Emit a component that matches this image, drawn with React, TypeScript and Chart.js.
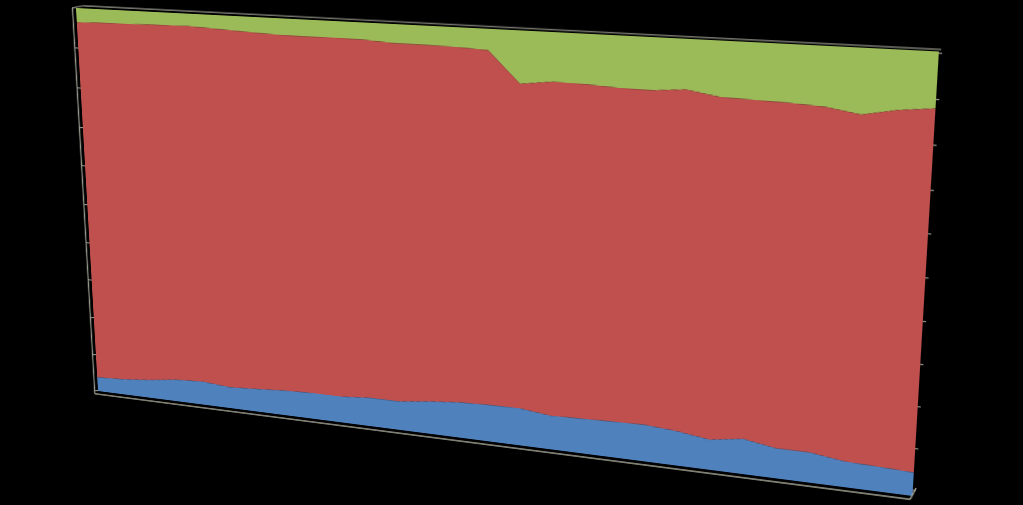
import React, { useEffect, useRef } from "react";
import { Chart, registerables } from "chart.js";

Chart.register(...registerables);

const categories = ["1","2","3","4","5","6","7","8","9","10","11","12","13","14","15","16","17","18","19","20","21","22","23","24","25","26","27","28"];
const blueValues = [3.8,4.1,4.8,5.8,6.2,5.6,6.0,6.5,6.8,6.8,7.4,7.4,8.3,9.0,9.3,9.4,8.5,8.7,8.9,9.1,8.5,7.4,8.6,7.3,7.3,6.2,5.9,5.6];
const redValues = [92.62,92.55,91.92,91.09,90.81,91.04,90.33,89.55,89.14,89.24,88.57,88.1,87.22,86.4,85.79,78.36,80.2,79.85,79.3,78.98,80.22,80.15,78.73,79.83,79.45,79.37,81.16,82.28];
const greenValues = [3.58,3.35,3.28,3.11,2.99,3.36,3.67,3.95,4.06,3.96,4.03,4.5,4.48,4.6,4.91,12.24,11.3,11.45,11.8,11.92,11.28,12.45,12.67,12.87,13.25,14.43,12.94,12.12];
const yTicks = [0, 10, 20, 30, 40, 50, 60, 70, 80, 90, 100];

const BLUE = "#4f81bd";
const RED = "#c0504d";
const GREEN = "#9bbb59";
const AXIS = "#9a9a90";

type Pt = [number, number];
const DST: Pt[] = [[76, 8], [939, 51.5], [912.5, 496], [98, 391]];

function rectToQuad(L: number, T: number, W: number, H: number, q: Pt[]): string {
  const [[x0, y0], [x1, y1], [x2, y2], [x3, y3]] = q;
  const dx1 = x1 - x2, dx2 = x3 - x2, sx = x0 - x1 + x2 - x3;
  const dy1 = y1 - y2, dy2 = y3 - y2, sy = y0 - y1 + y2 - y3;
  const den = dx1 * dy2 - dx2 * dy1;
  const g = (sx * dy2 - dx2 * sy) / den;
  const h = (dx1 * sy - sx * dy1) / den;
  const a = x1 - x0 + g * x1, b = x3 - x0 + h * x3, c = x0;
  const d = y1 - y0 + g * y1, e = y3 - y0 + h * y3, f = y0;
  const m = [
    a / W, d / W, 0, g / W,
    b / H, e / H, 0, h / H,
    0, 0, 1, 0,
    c - (a * L) / W - (b * T) / H, f - (d * L) / W - (e * T) / H, 0, 1 - (g * L) / W - (h * T) / H,
  ];
  return `matrix3d(${m.join(",")})`;
}

const framePlugin = {
  id: "frame",
  afterDraw(chart: any) {
    const { ctx, chartArea: { left: L, right: R, top: T, bottom: B } } = chart;
    const line = (pts: Pt[], color: string, w: number) => {
      ctx.save();
      ctx.strokeStyle = color;
      ctx.lineWidth = w;
      ctx.beginPath();
      pts.forEach(([x, y], i) => (i ? ctx.lineTo(x, y) : ctx.moveTo(x, y)));
      ctx.stroke();
      ctx.restore();
    };
    line([[L - 4.5, T], [L - 4.5, B + 4]], AXIS, 1.6);
    line([[L - 4.5, B + 4], [R - 2, B + 4]], "#a8a89a", 1.6);
    line([[R - 2, B + 4], [R + 3, B - 9]], "#a8a89a", 1.4);
    line([[L - 4.5, T], [L + 10, T - 3], [R + 2, T - 2]], "#77776f", 1.6);
  },
};

export default function App() {
  const ref = useRef<HTMLCanvasElement>(null);
  useEffect(() => {
    document.documentElement.style.overflow = "hidden";
    document.body.style.margin = "0";
    document.body.style.background = "#000";
    const canvas = ref.current!;
    const chart = new Chart(canvas, {
      type: "line",
      data: {
        labels: categories,
        datasets: [
          { label: "Series 1", data: blueValues, backgroundColor: BLUE, borderColor: BLUE, borderWidth: 0, pointRadius: 0, fill: "origin", tension: 0 },
          { label: "Series 2", data: redValues, backgroundColor: RED, borderColor: RED, borderWidth: 0, pointRadius: 0, fill: "-1", tension: 0 },
          { label: "Series 3", data: greenValues, backgroundColor: GREEN, borderColor: GREEN, borderWidth: 0, pointRadius: 0, fill: "-1", tension: 0 },
        ],
      },
      options: {
        responsive: false,
        animation: false,
        layout: { padding: { left: 30, right: 30, top: 15, bottom: 20 } },
        plugins: { legend: { display: false }, tooltip: { enabled: false }, title: { display: false } },
        scales: {
          x: { offset: false, grid: { display: false }, border: { display: false }, ticks: { display: false } },
          y: {
            stacked: true, min: 0, max: 100,
            afterBuildTicks: (s: any) => { s.ticks = yTicks.map((value) => ({ value })); },
            grid: { drawOnChartArea: false, color: AXIS, tickLength: 5, lineWidth: 1.2 },
            border: { display: false },
            ticks: { display: false },
          },
          y2: {
            position: "right", min: -1.4, max: 100.3,
            afterBuildTicks: (s: any) => { s.ticks = yTicks.map((value) => ({ value })); },
            grid: { drawOnChartArea: false, color: AXIS, tickLength: 3, lineWidth: 1.2 },
            border: { display: false },
            ticks: { display: false },
          },
        },
      },
      plugins: [framePlugin],
    } as any);
    const a = chart.chartArea;
    canvas.style.transformOrigin = "0 0";
    canvas.style.transform = rectToQuad(a.left, a.top, a.right - a.left, a.bottom - a.top, DST);
    return () => chart.destroy();
  }, []);
  return (
    <div style={{ position: "fixed", left: 0, top: 0, width: 1023, height: 505, overflow: "hidden", background: "#000" }}>
      <canvas ref={ref} width={1000} height={500} style={{ position: "absolute", left: 0, top: 0, display: "block" }} />
    </div>
  );
}
